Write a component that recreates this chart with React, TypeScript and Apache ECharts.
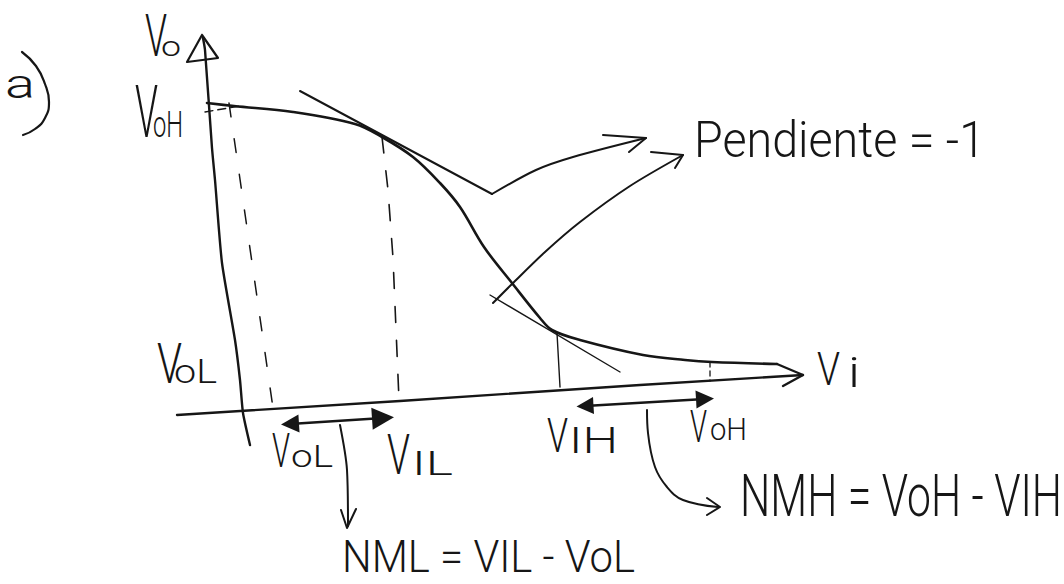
import React, { useEffect, useRef } from "react";
import * as echarts from "echarts";

type Pt = [number, number];

// Sheet frame: horizontal position across the page (0..1064), vertical position down the page (0..584).
const SHEET_W = 1064;
const SHEET_H = 584;

// Inverter voltage transfer characteristic Vo(Vi)
const transferCurve: Pt[] = [
  [207, 103], [234, 106], [293, 112], [355, 124], [382, 137], [413, 157],
  [440, 183], [460, 207], [484, 247], [512, 283], [540, 318], [552, 330],
  [580, 340], [643, 355], [685, 360], [712, 362], [777, 364],
];

// Axes and their arrowheads
const voAxis: Pt[] = [[203, 38], [205, 50], [212, 148], [215, 180], [222, 263], [235, 340], [240, 380], [243, 413], [250, 445]];
const voArrowHead: Pt[] = [[202, 35], [187, 62], [218, 58], [202, 35]];
const viAxis: Pt[] = [[177, 415], [400, 401], [640, 385], [803, 375]];
const viArrowHead: Pt[] = [[777, 364], [803, 375], [783, 386]];

// Unity-slope tangents at VIL and VIH
const tangentHigh: Pt[] = [[300, 91], [492, 194]];
const tangentLow: Pt[] = [[490, 295], [620, 372]];

// Pointers from the tangents to the "pendiente" note
const slopeArrowA: Pt[] = [[492, 194], [536, 170], [573, 157], [646, 138]];
const slopeArrowAHead: Pt[] = [[603, 135], [646, 138], [629, 152]];
const slopeArrowB: Pt[] = [[493, 303], [512, 284], [545, 252], [580, 222], [630, 186], [683, 155]];
const slopeArrowBHead: Pt[] = [[651, 152], [683, 155], [675, 168]];

// Projection guides
const guideVohLevel: Pt[] = [[205, 112], [240, 106]];
const guideVol: Pt[] = [[229, 103], [273, 408]];
const guideVil: Pt[] = [[382, 137], [388, 190], [393, 258], [399, 400]];
const guideVih: Pt[] = [[557, 333], [560, 387]];
const guideVohRight: Pt[] = [[710, 362], [710, 381]];

// Noise-margin spans (between arrowhead centres) and their callouts
const nmlSpan: Pt[] = [[290, 424], [383, 418]];
const nmhSpan: Pt[] = [[585, 406], [705, 399]];
const nmlPointer: Pt[] = [[340, 425], [347, 470], [348, 526]];
const nmlPointerHead: Pt[] = [[341, 510], [347, 528], [356, 509]];
const nmhPointer: Pt[] = [[647, 410], [648, 433], [655, 467], [667, 487], [683, 500], [718, 507]];
const nmhPointerHead: Pt[] = [[707, 498], [720, 507], [707, 515]];

// Closing bracket of the item letter
const itemBracket: Pt[] = [[22, 52], [36, 66], [45, 84], [49, 102], [45, 118], [35, 129], [23, 135]];

// Handwritten labels
const labelTexts = [
  "a",
  "V", "o",
  "V", "oH",
  "V", "oL",
  "V", "i",
  "V", "oL",
  "V", "IL",
  "V", "IH",
  "V", "oH",
  "Pendiente = -1",
  "NMH = VoH - VIH",
  "NML = VIL - VoL",
];

// Layout of each label: left/right extent, baseline, glyph height and which height it refers to
type Ref = "cap" | "x" | "asc";
const labelLayout: { left: number; right: number; baseline: number; height: number; ref: Ref }[] = [
  { left: 5, right: 35, baseline: 98, height: 21, ref: "x" },
  { left: 145, right: 167, baseline: 56, height: 42, ref: "cap" },
  { left: 161, right: 181, baseline: 56, height: 15, ref: "x" },
  { left: 135, right: 158, baseline: 137, height: 52, ref: "cap" },
  { left: 153, right: 183, baseline: 137, height: 26, ref: "cap" },
  { left: 157, right: 182, baseline: 383, height: 40, ref: "cap" },
  { left: 174, right: 217, baseline: 383, height: 24, ref: "cap" },
  { left: 817, right: 840, baseline: 385, height: 33, ref: "cap" },
  { left: 848, right: 860, baseline: 387, height: 32, ref: "asc" },
  { left: 272, right: 290, baseline: 467, height: 34, ref: "cap" },
  { left: 291, right: 333, baseline: 467, height: 22, ref: "cap" },
  { left: 387, right: 410, baseline: 474, height: 39, ref: "cap" },
  { left: 412, right: 453, baseline: 475, height: 24, ref: "cap" },
  { left: 547, right: 568, baseline: 452, height: 34, ref: "cap" },
  { left: 569, right: 618, baseline: 453, height: 26, ref: "cap" },
  { left: 690, right: 707, baseline: 442, height: 32, ref: "cap" },
  { left: 710, right: 747, baseline: 440, height: 22, ref: "cap" },
  { left: 694, right: 985, baseline: 157, height: 36, ref: "cap" },
  { left: 740, right: 1062, baseline: 516, height: 42, ref: "cap" },
  { left: 342, right: 635, baseline: 572, height: 32, ref: "cap" },
];

const INK = "#161616";
const FONT_FAMILY = "Roboto, 'Liberation Sans', sans-serif";
const FONT_WEIGHT = 300;
const REF_RATIO: Record<Ref, number> = { cap: 0.711, x: 0.528, asc: 0.74 };
const CENTRAL_OFFSET = 0.342;

function stroke(id: string, data: Pt[], width: number, opts: { smooth?: number; dash?: number[] } = {}) {
  return {
    type: "line",
    id,
    data,
    symbol: "none",
    showSymbol: false,
    smooth: opts.smooth ?? false,
    silent: true,
    clip: false,
    lineStyle: { color: INK, width, type: opts.dash ?? "solid", cap: "round", join: "round" },
    z: 3,
  };
}

function span(id: string, ends: Pt[], sizes: [number, number]) {
  return {
    type: "lines",
    id,
    coordinateSystem: "cartesian2d",
    silent: true,
    symbol: ["triangle", "triangle"],
    symbolSize: sizes,
    lineStyle: { color: INK, width: 2.6, opacity: 1 },
    itemStyle: { color: INK },
    data: [{ coords: ends }],
    z: 4,
  };
}

export default function App() {
  const ref = useRef<HTMLDivElement>(null);

  useEffect(() => {
    const el = ref.current;
    if (!el) return;
    const chart = echarts.init(el, undefined, { renderer: "svg" });

    const series = [
      stroke("transfer", transferCurve, 2.6, { smooth: 0.35 }),
      stroke("vo-axis", voAxis, 2.4, { smooth: 0.2 }),
      stroke("vo-head", voArrowHead, 2.2),
      stroke("vi-axis", viAxis, 2.4),
      stroke("vi-head", viArrowHead, 2.4),
      stroke("tangent-high", tangentHigh, 2),
      stroke("tangent-low", tangentLow, 1.4),
      stroke("slope-a", slopeArrowA, 2, { smooth: 0.3 }),
      stroke("slope-a-head", slopeArrowAHead, 2),
      stroke("slope-b", slopeArrowB, 2, { smooth: 0.3 }),
      stroke("slope-b-head", slopeArrowBHead, 2),
      stroke("guide-voh-level", guideVohLevel, 1.4, { dash: [8, 5] }),
      stroke("guide-vol", guideVol, 1.5, { dash: [14, 22] }),
      stroke("guide-vil", guideVil, 1.6, { dash: [16, 18] }),
      stroke("guide-vih", guideVih, 1.4),
      stroke("guide-voh-right", guideVohRight, 1.3, { dash: [5, 4] }),
      stroke("nml-pointer", nmlPointer, 2, { smooth: 0.3 }),
      stroke("nml-pointer-head", nmlPointerHead, 2),
      stroke("nmh-pointer", nmhPointer, 2, { smooth: 0.4 }),
      stroke("nmh-pointer-head", nmhPointerHead, 2),
      stroke("item-bracket", itemBracket, 2.2, { smooth: 0.5 }),
      span("nml-span", nmlSpan, [18, 22]),
      span("nmh-span", nmhSpan, [17, 18]),
    ];

    chart.setOption({
      animation: false,
      backgroundColor: "#ffffff",
      grid: { left: 0, right: 0, top: 0, bottom: 0, containLabel: false },
      xAxis: { type: "value", min: 0, max: SHEET_W, show: false },
      yAxis: { type: "value", min: 0, max: SHEET_H, inverse: true, show: false },
      series,
    });

    // Labels: sized from their glyph height, squeezed to their drawn width, placed through the grid
    const ctx = document.createElement("canvas").getContext("2d");
    const graphic = labelTexts.map((text, i) => {
      const lay = labelLayout[i];
      const fontSize = lay.height / REF_RATIO[lay.ref];
      let natural = fontSize * 0.55 * text.length;
      if (ctx) {
        ctx.font = `${FONT_WEIGHT} ${fontSize}px ${FONT_FAMILY}`;
        natural = ctx.measureText(text).width || natural;
      }
      const scaleX = (lay.right - lay.left) / natural;
      const mid = lay.baseline - CENTRAL_OFFSET * fontSize;
      const [px, py] = chart.convertToPixel({ xAxisIndex: 0, yAxisIndex: 0 }, [lay.left, mid]) as number[];
      return {
        type: "text",
        x: px,
        y: py,
        scaleX,
        silent: true,
        z: 10,
        style: {
          text,
          fontSize,
          fontFamily: FONT_FAMILY,
          fontWeight: FONT_WEIGHT,
          fill: INK,
          align: "left",
          verticalAlign: "middle",
          textAlign: "left",
          textVerticalAlign: "middle",
        },
      };
    });
    chart.setOption({ graphic });

    return () => chart.dispose();
  }, []);

  return (
    <div
      ref={ref}
      style={{ position: "fixed", left: 0, top: 0, width: 1064, height: 584, background: "#ffffff" }}
    />
  );
}
